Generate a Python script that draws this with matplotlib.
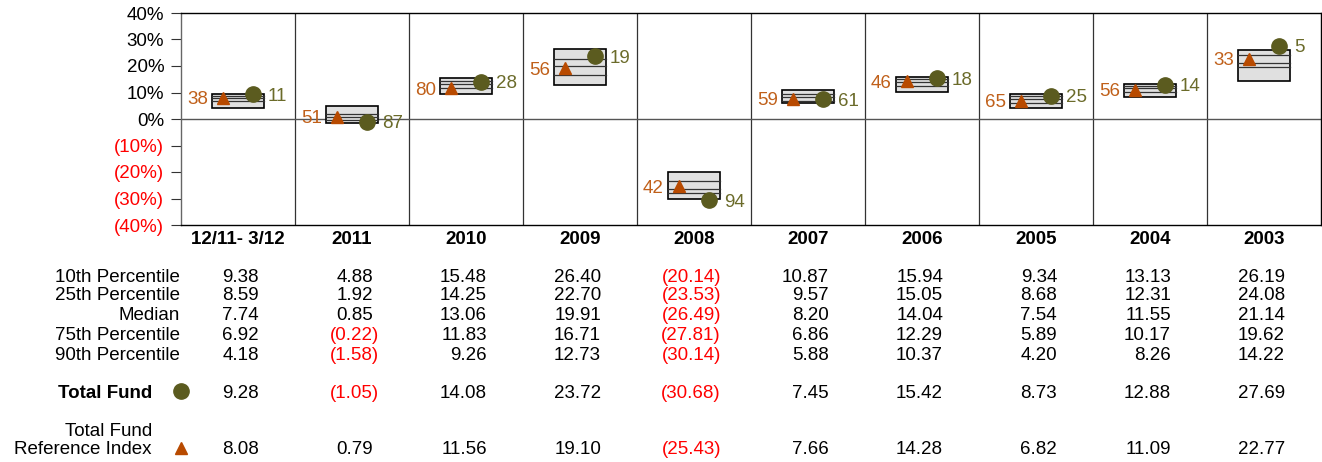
import numpy as np
import matplotlib.pyplot as plt

plt.rcParams['font.family'] = ['Liberation Sans', 'DejaVu Sans']

cols = ["12/11- 3/12", "2011", "2010", "2009", "2008", "2007", "2006", "2005", "2004", "2003"]
p10 = [9.38, 4.88, 15.48, 26.40, -20.14, 10.87, 15.94, 9.34, 13.13, 26.19]
p25 = [8.59, 1.92, 14.25, 22.70, -23.53, 9.57, 15.05, 8.68, 12.31, 24.08]
med = [7.74, 0.85, 13.06, 19.91, -26.49, 8.20, 14.04, 7.54, 11.55, 21.14]
p75 = [6.92, -0.22, 11.83, 16.71, -27.81, 6.86, 12.29, 5.89, 10.17, 19.62]
p90 = [4.18, -1.58, 9.26, 12.73, -30.14, 5.88, 10.37, 4.20, 8.26, 14.22]
fund = [9.28, -1.05, 14.08, 23.72, -30.68, 7.45, 15.42, 8.73, 12.88, 27.69]
ref = [8.08, 0.79, 11.56, 19.10, -25.43, 7.66, 14.28, 6.82, 11.09, 22.77]
fund_rank = [11, 87, 28, 19, 94, 61, 18, 25, 14, 5]
ref_rank = [38, 51, 80, 56, 42, 59, 46, 65, 56, 33]
yticks = [40, 30, 20, 10, 0, -10, -20, -30, -40]

olive = '#5b5b1f'
olive_txt = '#6b6b2a'
rust = '#b84a00'
rust_txt = '#c0601a'
red = '#ff0000'
fs = 13.5

W, H = 1322, 462
fig = plt.figure(figsize=(W / 100, H / 100), dpi=100)
x0, x1, ytop, ybot = 181, 1321, 13, 225
ax = fig.add_axes([x0 / W, 1 - ybot / H, (x1 - x0) / W, (ybot - ytop) / H])
n = len(cols)
ax.set_xlim(0, n)
ax.set_ylim(-40, 40)

bw = 0.45
for i in range(n):
    c = i + 0.5
    top, bot = p10[i], p90[i]
    ax.add_patch(plt.Rectangle((c - bw / 2, bot), bw, top - bot, facecolor='#e0e0e0',
                               edgecolor='black', lw=1.2, zorder=3))
    for v in (p25[i], med[i], p75[i]):
        ax.plot([c - bw / 2, c + bw / 2], [v, v], color='#333333', lw=0.9, zorder=4)
    ax.plot(c - 0.13, ref[i], marker='^', ms=9, color=rust, ls='none', zorder=5)
    ax.plot(c + 0.13, fund[i], marker='o', ms=11, color=olive, ls='none', zorder=5)
    ax.annotate(str(ref_rank[i]), (c - 0.13, ref[i]), xytext=(-11, 0), textcoords='offset points',
                ha='right', va='center_baseline', fontsize=fs, color=rust_txt)
    ax.annotate(str(fund_rank[i]), (c + 0.13, fund[i]), xytext=(11, 0), textcoords='offset points',
                ha='left', va='center_baseline', fontsize=fs, color=olive_txt)

for i in range(1, n):
    ax.axvline(i, color='#333333', lw=0.9, zorder=1)
ax.axhline(0, color='#555555', lw=1, zorder=1)

ax.set_xticks([])
ax.set_yticks(yticks)
ax.set_yticklabels(['%d%%' % v if v >= 0 else '(%d%%)' % -v for v in yticks], fontsize=fs)
for lab, v in zip(ax.get_yticklabels(), yticks):
    lab.set_color(red if v < 0 else 'black')
    lab.set_verticalalignment('center_baseline')
ax.tick_params(axis='y', direction='out', length=7, color='#333333', pad=5)
for s in ['top', 'bottom', 'right']:
    ax.spines[s].set_color('black')
ax.spines['left'].set_color('#666666')
for s in ax.spines.values():
    s.set_linewidth(1)

# column headers and table
colw = (x1 - x0) / n
def fx(px):
    return px / W
def fy(py):
    return 1 - py / H

for i, name in enumerate(cols):
    cx = x0 + (i + 0.5) * colw
    fig.text(fx(cx), fy(238), name, ha='center', va='center_baseline', fontsize=fs, fontweight='bold')

rows = [("10th Percentile", p10, 275), ("25th Percentile", p25, 294), ("Median", med, 314),
        ("75th Percentile", p75, 334), ("90th Percentile", p90, 353)]
for label, vals, py in rows:
    fig.text(fx(180), fy(py), label, ha='right', va='center_baseline', fontsize=fs)

def put_vals(vals, py):
    for i, v in enumerate(vals):
        cx = x0 + (i + 0.5) * colw + 21
        if v < 0:
            fig.text(fx(cx + 6), fy(py), '(%.2f)' % -v, ha='right', va='center_baseline',
                     fontsize=fs, color=red)
        else:
            fig.text(fx(cx), fy(py), '%.2f' % v, ha='right', va='center_baseline', fontsize=fs)

for label, vals, py in rows:
    put_vals(vals, py)

fig.text(fx(152), fy(391), 'Total Fund', ha='right', va='center_baseline', fontsize=fs, fontweight='bold')
fig.lines.append(plt.Line2D([fx(181)], [fy(391)], marker='o', ms=11, color=olive, transform=fig.transFigure))
put_vals(fund, 391)

fig.text(fx(152), fy(429), 'Total Fund', ha='right', va='center_baseline', fontsize=fs)
fig.text(fx(152), fy(448), 'Reference Index', ha='right', va='center_baseline', fontsize=fs)
fig.lines.append(plt.Line2D([fx(181)], [fy(448)], marker='^', ms=9, color=rust, transform=fig.transFigure))
put_vals(ref, 448)

fig.savefig('out.png', dpi=100)
